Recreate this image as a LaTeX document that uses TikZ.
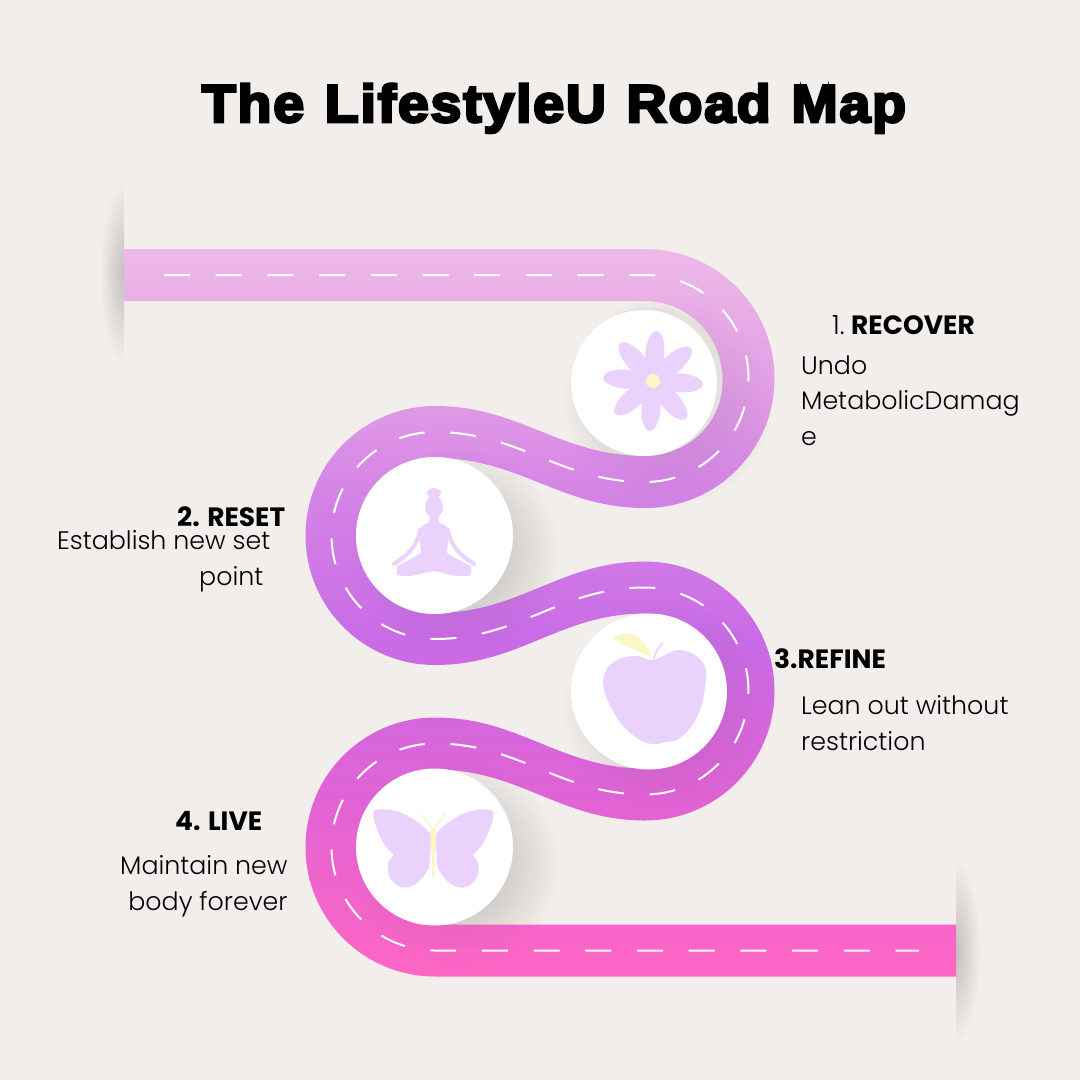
\documentclass[tikz,border=0pt]{standalone}
\usepackage{fontspec}
\setmainfont{Poppins Light}[BoldFont={Poppins Bold}]
\newfontfamily\titlefont{Liberation Sans Bold}[FakeBold=5, FakeStretch=1.05, LetterSpace=3.2, WordSpace=1.2]
\usetikzlibrary{fadings}

\definecolor{pagebg}{HTML}{F2EEEB}
\definecolor{roadA}{HTML}{EDB9E8}
\definecolor{roadB}{HTML}{E3A0E6}
\definecolor{roadC}{HTML}{D483E6}
\definecolor{roadD}{HTML}{C96BE6}
\definecolor{roadE}{HTML}{E163D4}
\definecolor{roadF}{HTML}{FF66C4}
\definecolor{lilac}{HTML}{EBD2FC}
\definecolor{paleyellow}{HTML}{FAF7C6}
\definecolor{rimgrey}{HTML}{E3E1DC}

\pgfdeclareverticalshading{roadshade}{100bp}{color(0bp)=(roadF); color(25bp)=(roadF); color(37bp)=(roadE); color(48bp)=(roadD); color(58bp)=(roadC); color(66bp)=(roadB); color(75bp)=(roadA); color(100bp)=(roadA)}
\tikzfading[name=softedge, inner color=transparent!45, outer color=transparent!100]

\tikzset{
	dropshade/.style={fill=black!75, path fading=softedge, opacity=#1},
	endshade/.style={fill=black!80, path fading=softedge, opacity=0.45},
	disc/.style={fill=white},
	headtext/.style={font=\fontsize{26.5}{30}\selectfont\bfseries, inner sep=0pt, anchor=base west},
	bodytext/.style={font=\fontsize{25.3}{35.5}\selectfont, inner sep=0pt, anchor=base west},
}

\begin{document}
\begin{tikzpicture}[x=1pt, y=-1pt]
	\useasboundingbox (0, 0) rectangle (1080, 1080);
	\fill[pagebg] (0, 0) rectangle (1080, 1080);

	% end shadows
	\begin{scope}
		\clip (90, 170) rectangle (124, 380);
		\fill[endshade] (124, 273) ellipse [x radius=24pt, y radius=90pt];
	\end{scope}
	\begin{scope}
		\clip (956, 850) rectangle (990, 1060);
		\fill[endshade] (956, 951) ellipse [x radius=24pt, y radius=90pt];
	\end{scope}

	% disc shadows on the page
	\foreach \x/\y in {668/400, 455/552, 668/708, 455/864}
		\fill[dropshade=0.42] (\x, \y) circle (105pt);

	% road
	\shade[shading=roadshade] (124, 249) -- (645, 249)
		arc [start angle=90, end angle=-90, radius=129.5pt]
		.. controls (560, 508) and (520, 458) .. (435, 458)
		arc [start angle=90, end angle=270, radius=77.5pt]
		.. controls (520, 613) and (560, 561.5) .. (645, 561.5)
		arc [start angle=90, end angle=-90, radius=129.5pt]
		.. controls (560, 820.5) and (520, 769.5) .. (435, 769.5)
		arc [start angle=90, end angle=270, radius=77.5pt]
		-- (956, 924.5) -- (956, 976.5) -- (435, 976.5)
		arc [start angle=270, end angle=90, radius=129.5pt]
		.. controls (520, 717.5) and (560, 768.5) .. (645, 768.5)
		arc [start angle=-90, end angle=90, radius=77.5pt]
		.. controls (560, 613.5) and (520, 665) .. (435, 665)
		arc [start angle=270, end angle=90, radius=129.5pt]
		.. controls (520, 406) and (560, 456) .. (645, 456)
		arc [start angle=-90, end angle=90, radius=77.5pt]
		-- (124, 301) -- cycle;

	% disc shadows on the road
	\foreach \x/\y in {668/400, 455/552, 668/708, 455/864}
		\fill[dropshade=0.24] (\x, \y) circle (105pt);

	% centre line
	\draw[white, line width=2pt, dash pattern=on 26pt off 25.7pt] (164, 275) -- (645, 275)
		arc [start angle=90, end angle=-90, radius=103.5pt]
		.. controls (560, 482) and (520, 432) .. (435, 432)
		arc [start angle=90, end angle=270, radius=103.5pt]
		.. controls (520, 639) and (560, 587.5) .. (645, 587.5)
		arc [start angle=90, end angle=-90, radius=103.5pt]
		.. controls (560, 794.5) and (520, 743.5) .. (435, 743.5)
		arc [start angle=90, end angle=270, radius=103.5pt]
		-- (919, 950.5);

	% discs
	\fill[rimgrey] (649, 381) circle (73.5pt);
	\fill[disc] (644, 383) circle (73pt);
	\fill[disc] (434.5, 535.5) circle (78.5pt);
	\fill[disc] (649, 691.5) circle (78pt);
	\fill[disc] (434.5, 847) circle (78.5pt);

	% flower
	\foreach \a in {-4, 41, ..., 311}
		\fill[lilac, shift={(653, 381)}, rotate=\a] (27pt, 0pt) ellipse [x radius=23pt, y radius=9.5pt];
	\fill[paleyellow] (653, 381) circle (7pt);

	% figure
	\begin{scope}[shift={(434, 0)}]
		\foreach \s in {1, -1} {
			\fill[lilac, xscale=\s] (0, 516) -- (4, 516) -- (5, 522) .. controls (8, 525) and (13, 524) .. (15, 531)
				.. controls (16, 540) and (12, 548) .. (13, 553) .. controls (20, 557) and (28, 562) .. (37, 566)
				-- (37, 575) .. controls (22, 579) and (10, 572) .. (0, 571) -- cycle;
			\draw[lilac, line width=4pt, line cap=round, xscale=\s] (14, 530) .. controls (17, 548) and (28, 556) .. (40, 564);
		}
		\fill[lilac] (0, 507) ellipse [x radius=9pt, y radius=11pt];
		\fill[lilac] (0, 493) ellipse [x radius=7pt, y radius=5pt];
	\end{scope}

	% apple
	\fill[lilac] plot[smooth cycle, tension=0.7] coordinates {(653, 660) (680, 650) (703, 663) (705, 687) (697, 717) (680, 738) (665, 742) (655, 744) (640, 740) (620, 722) (605, 693) (605, 673) (617, 660) (637, 656)};
	\fill[paleyellow] (613, 638) .. controls (625, 630) and (642, 630) .. (652, 658) .. controls (640, 650) and (625, 648) .. cycle;
	\draw[lilac, line width=1.5pt] (654, 660) .. controls (655, 652) and (658, 648) .. (663, 643);

	% butterfly
	\begin{scope}[shift={(433.3, 0)}]
		\foreach \s in {1, -1} {
			\fill[lilac, xscale=\s] (2, 835) .. controls (15, 818) and (40, 806) .. (58, 810)
				.. controls (62, 812) and (60, 818) .. (58, 824) .. controls (54, 838) and (48, 848) .. (39, 855)
				.. controls (48, 862) and (47, 875) .. (40, 882) .. controls (32, 892) and (16, 890) .. (4, 867) -- cycle;
		}
		\fill[paleyellow] (-3, 830) -- (3, 830) -- (1, 878) -- (-1, 878) -- cycle;
		\draw[paleyellow, line width=1.5pt] (-11, 815) -- (0, 830) -- (12, 813);
	\end{scope}

	% labels
	\node[font=\fontsize{53}{53}\selectfont\titlefont, inner sep=0pt, anchor=base] (title) at (554, 122) {The LifestyleU Road Map};
	\node[headtext] (recovernum) at (832, 334) {\mdseries 1.};
	\node[headtext] (recover) at (851, 334) {RECOVER};
	\node[bodytext, align=left] (undo) at (801, 445) {Undo\\MetabolicDamag\\e};
	\node[headtext] (reset) at (177, 526) {2. RESET};
	\node[bodytext, align=right] (setpoint) at (57, 585) {Establish new set\\point\hspace*{7pt}};
	\node[headtext] (refine) at (774, 668) {3.REFINE};
	\node[bodytext, align=left] (lean) at (801, 750) {Lean out without\\restriction};
	\node[headtext] (live) at (175, 830) {4. LIVE};
	\node[bodytext, align=right] (maintain) at (120, 910) {Maintain new\\body forever};
\end{tikzpicture}
\end{document}
